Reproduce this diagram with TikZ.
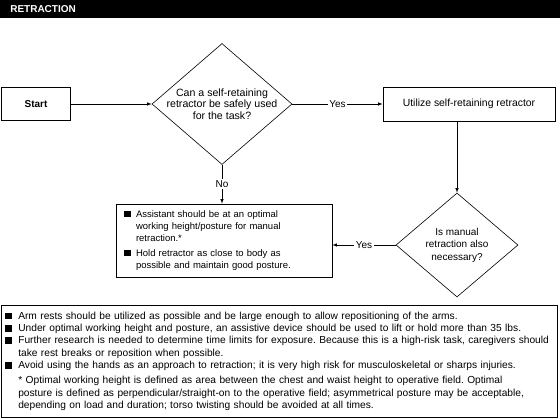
\documentclass[tikz,border=0pt]{standalone}
\usepackage{fontspec}
\setmainfont{Liberation Sans}
\usetikzlibrary{shapes.geometric}

\newcommand{\sqbul}[1]{\makebox[#1][l]{\rule{6.5pt}{6.5pt}}}
\frenchspacing

\begin{document}
\begin{tikzpicture}
            [
                x=1pt, y=-1pt,
                font=\fontsize{9.5}{12}\selectfont,
                process/.style={draw, rectangle, inner sep=0pt},
                decision/.style={draw, diamond, inner sep=0pt},
                answer/.style={fill=white, inner sep=1.5pt, font=\fontsize{10}{12}\selectfont},
                ->, >=latex, line width=0.6pt
            ]
            \useasboundingbox (0,0) rectangle (560,418);
            \node[fill=black, text=white, anchor=north west, inner ysep=0pt, inner xsep=10pt,
                minimum width=560pt, minimum height=18pt, text width=540pt,
                font=\bfseries\fontsize{10}{12}\selectfont] (header) at (0,0) {RETRACTION};

            \node[process, minimum width=69pt, minimum height=33pt,
                font=\bfseries\fontsize{10}{12}\selectfont] (start) at (36,104) {Start};
            \node[decision, minimum width=140pt, minimum height=121pt] (q1) at (222,104) {};
            \node[align=center, font=\fontsize{10.6}{11.6}\selectfont] (q1text) at (q1)
                {Can a self-retaining\\ retractor be safely used\\ for the task?};
            \node[process, minimum width=172pt, minimum height=34pt,
                font=\fontsize{10.4}{12}\selectfont] (utilize) at (469,104) {Utilize self-retaining retractor};
            \node[decision, minimum width=122pt, minimum height=104pt] (q2) at (457,245) {};
            \node[align=center, font=\fontsize{10}{12.5}\selectfont] (q2text) at (q2)
                {Is manual\\ retraction also\\ necessary?};
            \node[process, minimum width=216pt, minimum height=73pt, text width=200pt, inner xsep=8pt, align=left] (manual) at (224,240.5)
                {\sqbul{12pt}Assistant should be at an optimal\\
                 \hspace*{12pt}working height/posture for manual\\
                 \hspace*{12pt}retraction.*\\[3pt]
                 \sqbul{12pt}Hold retractor as close to body as\\
                 \hspace*{12pt}possible and maintain good posture.};

            \node[process, anchor=north west, minimum width=556pt, minimum height=112pt,
                text width=548pt, inner xsep=4pt, align=left, font=\fontsize{10.2}{12.3}\selectfont] (notes) at (1,305)
                {\sqbul{13pt}Arm rests should be utilized as possible and be large enough to allow repositioning of the arms.\\
                 \sqbul{13pt}Under optimal working height and posture, an assistive device should be used to lift or hold more than 35 lbs.\\
                 \sqbul{13pt}Further research is needed to determine time limits for exposure. Because this is a high-risk task, caregivers should\\
                 \hspace*{13pt}take rest breaks or reposition when possible.\\
                 \sqbul{13pt}Avoid using the hands as an approach to retraction; it is very high risk for musculoskeletal or sharps injuries.\\[3pt]
                 \hspace*{13pt}* Optimal working height is defined as area between the chest and waist height to operative field. Optimal\\
                 \hspace*{13pt}posture is defined as perpendicular/straight-on to the operative field; asymmetrical posture may be acceptable,\\
                 \hspace*{13pt}depending on load and duration; torso twisting should be avoided at all times.};

            \draw (start) -- (q1);
            \draw (q1) -- node[answer] {Yes} (utilize);
            \draw (utilize.south -| q2.north) -- (q2.north);
            \draw (q2.west) -- node[answer] {Yes} (q2.west -| manual.east);
            \draw (q1.south) -- node[answer] {No} (q1.south |- manual.north);
        \end{tikzpicture}
\end{document}
